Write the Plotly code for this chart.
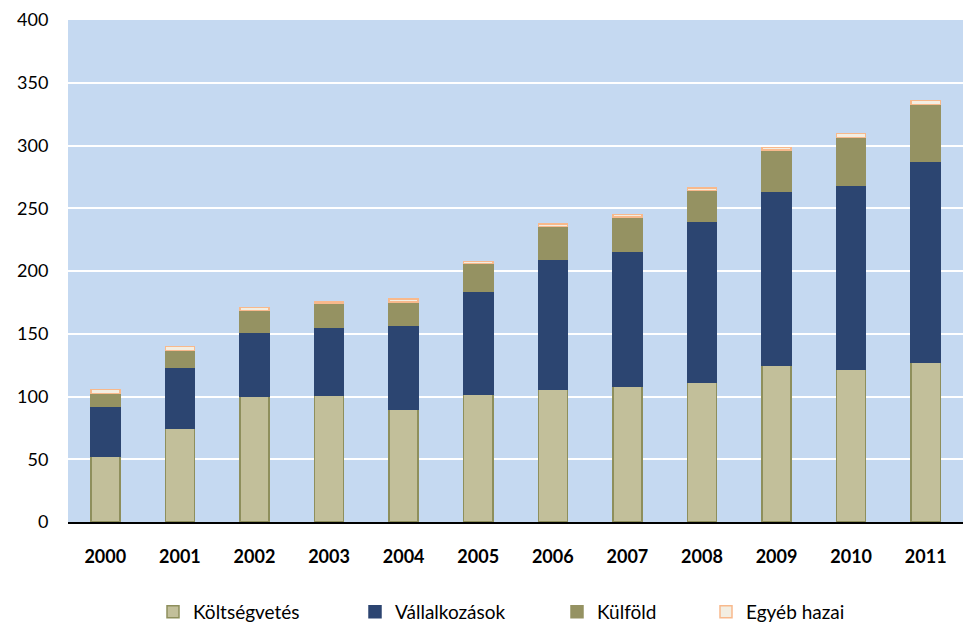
import plotly.graph_objects as go

years = ['2000', '2001', '2002', '2003', '2004', '2005',
         '2006', '2007', '2008', '2009', '2010', '2011']

koltsegvetes = [52, 75, 100, 101, 89.5, 102, 106, 108.5, 111, 125, 122, 127.5]
vallalkozasok = [40, 48.5, 51, 54.5, 67.5, 82, 103, 107.5, 129, 138.5, 146.5, 160]
kulfold = [10.5, 13, 17.5, 18.5, 18.5, 22, 26.5, 27, 24, 33, 38, 45]
egyeb_hazai = [3, 3.5, 2.5, 1.5, 2, 1.5, 2, 2, 2, 2, 3, 3.5]

series = [
    ('Költségvetés', koltsegvetes, '#C2BF9A', '#8E8F5C', 'legend'),
    ('Vállalkozások', vallalkozasok, '#2C4571', '#2C4571', 'legend2'),
    ('Külföld', kulfold, '#959262', '#959262', 'legend3'),
    ('Egyéb hazai', egyeb_hazai, '#F3EEE2', '#F8B98C', 'legend4'),
]

fig = go.Figure()

for name, vals, fill, edge, leg in series:
    fig.add_trace(go.Bar(x=years, y=vals, name=name, legend=leg, showlegend=True,
                         marker=dict(color=fill, line=dict(color=edge, width=1.5))))

font = dict(family='Lato', size=18, color='black')

# page body has an 8px margin, so the figure is 8px smaller than the window
# one legend per entry so each can sit where the original puts it
leg_px = [153, 355, 557, 706]
legends = {}
for i, px in enumerate(leg_px):
    key = 'legend' if i == 0 else 'legend%d' % (i + 1)
    legends[key] = dict(x=(px - 68) / 895, xanchor='left', y=-0.179, yanchor='middle',
                        orientation='h', bgcolor='rgba(0,0,0,0)',
                        font=dict(family='Lato', size=19, color='black'), itemwidth=30)

fig.update_layout(
    barmode='stack',
    bargap=0.61,
    showlegend=True,
    width=971, height=632,
    margin=dict(l=60, r=16, t=12, b=118, autoexpand=False),
    plot_bgcolor='#C5D9F1',
    paper_bgcolor='white',
    font=font,
    xaxis=dict(showgrid=False, showline=True, linecolor='black', linewidth=1.5,
               automargin=False, ticks='outside', ticklen=18, tickcolor='rgba(0,0,0,0)',
               tickfont=dict(family='Lato', size=18, color='black', weight='bold')),
    yaxis=dict(range=[0, 400], dtick=50, showgrid=True, gridcolor='white', gridwidth=1.5,
               automargin=False, zeroline=False, showline=False, ticks='outside', ticklen=15,
               tickcolor='rgba(0,0,0,0)', tickfont=font),
    **legends
)

fig.write_html('out.html')
